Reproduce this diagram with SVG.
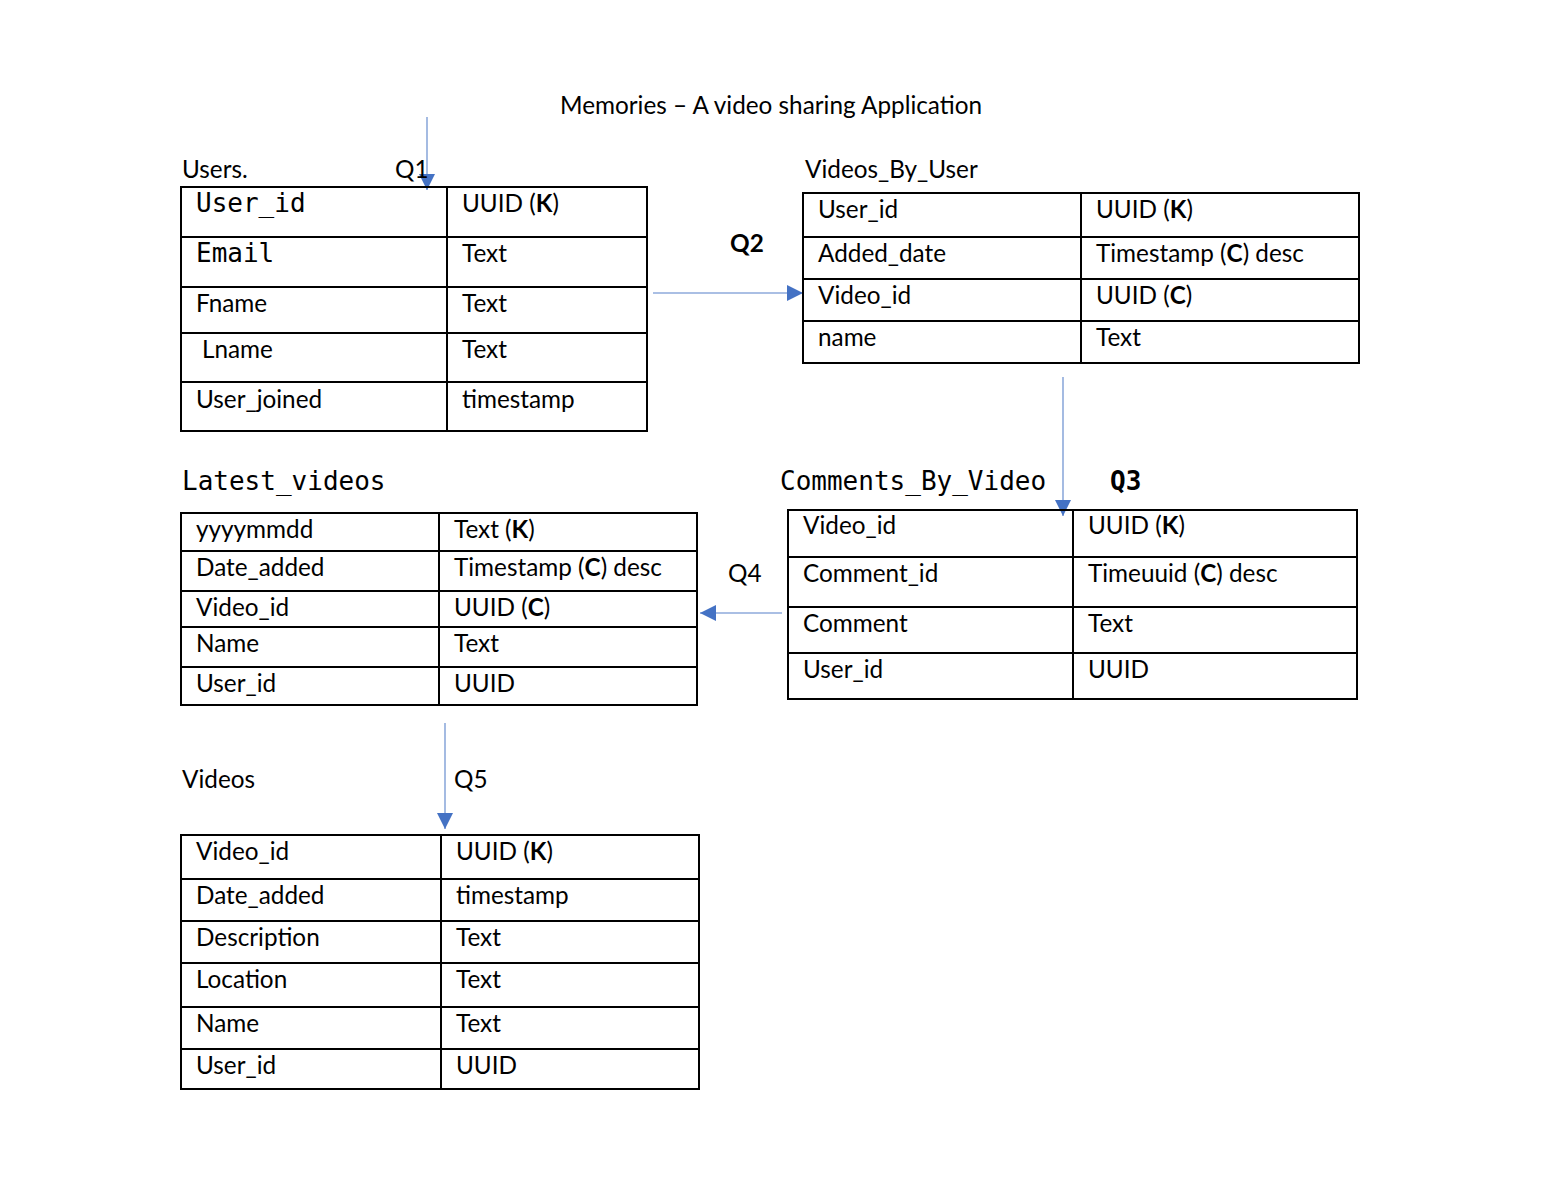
<svg xmlns="http://www.w3.org/2000/svg" width="1541" height="1180" viewBox="0 0 1541 1180">
<style>
.t{font-family:Lato,"Open Sans","Liberation Sans",sans-serif;font-size:24.3px;fill:#000}
.m{font-family:"DejaVu Sans Mono","Liberation Mono",monospace;font-size:26px;fill:#000}
.b{font-weight:bold}
.box{fill:none;stroke:#000;stroke-width:2}
.ln{stroke:#000;stroke-width:2}
.c{stroke:#8eaadb;stroke-width:1.6;fill:none}
</style>
<defs>
<marker id="ah" viewBox="0 0 10 10" refX="10" refY="5" markerWidth="16" markerHeight="16" markerUnits="userSpaceOnUse" orient="auto">
<path d="M0,0 L10,5 L0,10 Z" fill="#4472c4"/>
</marker>
</defs>
<rect width="1541" height="1180" fill="#fff"/>
<text class="t" x="560" y="114">Memories – A video sharing Application</text>

<g id="connectors">
<line class="c" x1="427" y1="117" x2="427" y2="190" marker-end="url(#ah)"/>
<line class="c" x1="653" y1="293" x2="803" y2="293" marker-end="url(#ah)"/>
<line class="c" x1="1063" y1="377" x2="1063" y2="516" marker-end="url(#ah)"/>
<line class="c" x1="782" y1="613" x2="700" y2="613" marker-end="url(#ah)"/>
<line class="c" x1="445" y1="723" x2="445" y2="829" marker-end="url(#ah)"/>
<text class="t" x="395" y="178">Q1</text>
<text class="t b" x="730" y="252">Q2</text>
<text class="m b" x="1110" y="490">Q3</text>
<text class="t" x="728" y="582">Q4</text>
<text class="t" x="454" y="788">Q5</text>
</g>

<g id="users">
<text class="t" x="182" y="178">Users.</text>
<rect class="box" x="181" y="187" width="466" height="244"/>
<line class="ln" x1="447" y1="187" x2="447" y2="431"/>
<line class="ln" x1="181" y1="237" x2="647" y2="237"/>
<line class="ln" x1="181" y1="287" x2="647" y2="287"/>
<line class="ln" x1="181" y1="333" x2="647" y2="333"/>
<line class="ln" x1="181" y1="382" x2="647" y2="382"/>
<text class="m" x="196" y="212">User_id</text>
<text class="m" x="196" y="262">Email</text>
<text class="t" x="196" y="312">Fname</text>
<text class="t" x="202" y="358">Lname</text>
<text class="t" x="196" y="408">User_joined</text>
<text class="t" x="462" y="212">UUID (<tspan class="b">K</tspan>)</text>
<text class="t" x="462" y="262">Text</text>
<text class="t" x="462" y="312">Text</text>
<text class="t" x="462" y="358">Text</text>
<text class="t" x="462" y="408">timestamp</text>
</g>

<g id="videos_by_user">
<text class="t" x="805" y="178">Videos_By_User</text>
<rect class="box" x="803" y="193" width="556" height="170"/>
<line class="ln" x1="1081" y1="193" x2="1081" y2="363"/>
<line class="ln" x1="803" y1="237" x2="1359" y2="237"/>
<line class="ln" x1="803" y1="279" x2="1359" y2="279"/>
<line class="ln" x1="803" y1="321" x2="1359" y2="321"/>
<text class="t" x="818" y="218">User_id</text>
<text class="t" x="818" y="262">Added_date</text>
<text class="t" x="818" y="304">Video_id</text>
<text class="t" x="818" y="346">name</text>
<text class="t" x="1096" y="218">UUID (<tspan class="b">K</tspan>)</text>
<text class="t" x="1096" y="262">Timestamp (<tspan class="b">C</tspan>) desc</text>
<text class="t" x="1096" y="304">UUID (<tspan class="b">C</tspan>)</text>
<text class="t" x="1096" y="346">Text</text>
</g>

<g id="comments_by_video">
<text class="m" x="780" y="490">Comments_By_Video</text>
<rect class="box" x="788" y="510" width="569" height="189"/>
<line class="ln" x1="1073" y1="510" x2="1073" y2="699"/>
<line class="ln" x1="788" y1="557" x2="1357" y2="557"/>
<line class="ln" x1="788" y1="607" x2="1357" y2="607"/>
<line class="ln" x1="788" y1="653" x2="1357" y2="653"/>
<text class="t" x="803" y="534">Video_id</text>
<text class="t" x="803" y="582">Comment_id</text>
<text class="t" x="803" y="632">Comment</text>
<text class="t" x="803" y="678">User_id</text>
<text class="t" x="1088" y="534">UUID (<tspan class="b">K</tspan>)</text>
<text class="t" x="1088" y="582">Timeuuid (<tspan class="b">C</tspan>) desc</text>
<text class="t" x="1088" y="632">Text</text>
<text class="t" x="1088" y="678">UUID</text>
</g>

<g id="latest_videos">
<text class="m" x="182" y="490">Latest_videos</text>
<rect class="box" x="181" y="513" width="516" height="192"/>
<line class="ln" x1="439" y1="513" x2="439" y2="705"/>
<line class="ln" x1="181" y1="551" x2="697" y2="551"/>
<line class="ln" x1="181" y1="591" x2="697" y2="591"/>
<line class="ln" x1="181" y1="627" x2="697" y2="627"/>
<line class="ln" x1="181" y1="667" x2="697" y2="667"/>
<text class="t" x="196" y="538">yyyymmdd</text>
<text class="t" x="196" y="576">Date_added</text>
<text class="t" x="196" y="616">Video_id</text>
<text class="t" x="196" y="652">Name</text>
<text class="t" x="196" y="692">User_id</text>
<text class="t" x="454" y="538">Text (<tspan class="b">K</tspan>)</text>
<text class="t" x="454" y="576">Timestamp (<tspan class="b">C</tspan>) desc</text>
<text class="t" x="454" y="616">UUID (<tspan class="b">C</tspan>)</text>
<text class="t" x="454" y="652">Text</text>
<text class="t" x="454" y="692">UUID</text>
</g>

<g id="videos">
<text class="t" x="182" y="788">Videos</text>
<rect class="box" x="181" y="835" width="518" height="254"/>
<line class="ln" x1="441" y1="835" x2="441" y2="1089"/>
<line class="ln" x1="181" y1="879" x2="699" y2="879"/>
<line class="ln" x1="181" y1="921" x2="699" y2="921"/>
<line class="ln" x1="181" y1="963" x2="699" y2="963"/>
<line class="ln" x1="181" y1="1007" x2="699" y2="1007"/>
<line class="ln" x1="181" y1="1049" x2="699" y2="1049"/>
<text class="t" x="196" y="860">Video_id</text>
<text class="t" x="196" y="904">Date_added</text>
<text class="t" x="196" y="946">Description</text>
<text class="t" x="196" y="988">Location</text>
<text class="t" x="196" y="1032">Name</text>
<text class="t" x="196" y="1074">User_id</text>
<text class="t" x="456" y="860">UUID (<tspan class="b">K</tspan>)</text>
<text class="t" x="456" y="904">timestamp</text>
<text class="t" x="456" y="946">Text</text>
<text class="t" x="456" y="988">Text</text>
<text class="t" x="456" y="1032">Text</text>
<text class="t" x="456" y="1074">UUID</text>
</g>
</svg>
